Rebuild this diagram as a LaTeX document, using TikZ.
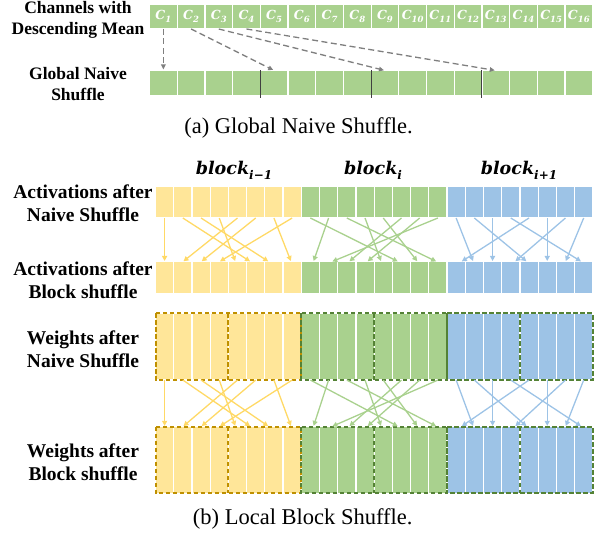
\documentclass[tikz,border=0pt]{standalone}
\usepackage{fontspec}
\setmainfont{Liberation Serif}
\newfontfamily\blkfont{DejaVu Serif}
\usetikzlibrary{arrows.meta}
\definecolor{cgreen}{HTML}{A9D18E}
\definecolor{cyellow}{HTML}{FFE699}
\definecolor{cblue}{HTML}{9DC3E6}
\definecolor{ayellow}{HTML}{FFD966}
\definecolor{agreen}{HTML}{A9D18E}
\definecolor{ablue}{HTML}{9DC3E6}
\definecolor{dgold}{HTML}{BF9000}
\definecolor{dgreen}{HTML}{548235}
\definecolor{agray}{HTML}{7F7F7F}
\definecolor{sepline}{HTML}{404040}

\newcommand{\chlab}[1]{{\blkfont\bfseries\itshape\fontsize{12.5}{12.5}\selectfont C\raisebox{-0.22em}{\fontsize{8.5}{8.5}\selectfont #1}}}
\newcommand{\blklab}[1]{{\blkfont\bfseries\itshape\fontsize{17.5}{17.5}\selectfont block\raisebox{-0.25em}{\fontsize{12}{12}\selectfont #1}}}

\tikzset{
  cellbase/.style={draw=white, line width=1.2pt, inner sep=0pt, outer sep=0pt},
  acell/.style={cellbase, fill=cgreen, minimum width=27.7pt, minimum height=25pt, text=white},
  bcell/.style={cellbase, minimum width=18.22pt},
  rowA/.style={minimum height=31.4pt},
  rowW/.style={minimum height=66.7pt},
  garrow/.style={draw=agray, line width=1.3pt, dash pattern=on 6pt off 3.5pt,
    -{Triangle[length=5pt,width=4.5pt]}, shorten >=1pt},
  barrow/.style={line width=1.3pt, -{Triangle[length=5pt,width=5pt]}, shorten >=0.8pt},
  halfbox/.style={line width=2pt, dash pattern=on 4.5pt off 2.5pt},
  rowlabel/.style={font=\fontsize{19.5}{23}\selectfont\bfseries, align=center, inner sep=0pt},
  toplabel/.style={font=\fontsize{17.5}{20.5}\selectfont\bfseries, align=center, inner sep=0pt},
  caption/.style={font=\fontsize{22.5}{26}\selectfont}
}

\begin{document}
\begin{tikzpicture}[x=1pt,y=-1pt]
\useasboundingbox (0,0) rectangle (602,537);

% ---------------- (a) global naive shuffle ----------------
\node[toplabel] (lchan) at (78,20) {Channels with\\Descending Mean};
\node[toplabel] (lglob) at (78,84) {Global Naive\\Shuffle};

\foreach \k in {1,...,16}{
  \node[acell] (c\k) at ({149.5+27.7*(\k-0.5)},16.5) {\chlab{\k}};
  \node[acell] (g\k) at ({149.5+27.7*(\k-0.5)},83) {};
}
% group separators in the shuffled row
\foreach \k in {4,8,12}
  \draw[sepline, line width=1pt] (g\k.north east) -- ([yshift=-3pt]g\k.south east);

\draw[garrow] (c1.south) -- (g1.north);
\draw[garrow] (c2.south) -- (g5.north);
\draw[garrow] (c3.south) -- (g9.north);
\draw[garrow] (c4.south) -- (g13.north);

\node[caption] (capa) at (298.5,128) {(a) Global Naive Shuffle.};

% ---------------- (b) local block shuffle ----------------
\node[anchor=base] (blk0) at (234,175) {\blklab{i−1}};
\node[anchor=base] (blk1) at (373,175) {\blklab{i}};
\node[anchor=base] (blk2) at (519,175) {\blklab{i+1}};

\node[rowlabel] (lact1) at (83,203) {Activations after\\Naive Shuffle};
\node[rowlabel] (lact2) at (83,280) {Activations after\\Block shuffle};
\node[rowlabel] (lw1) at (83,349) {Weights after\\Naive Shuffle};
\node[rowlabel] (lw2) at (83,462) {Weights after\\Block shuffle};

\foreach \n in {0,...,23}{
  \pgfmathtruncatemacro{\b}{int(\n/8)}
  \ifcase\b \def\fc{cyellow}\or \def\fc{cgreen}\or \def\fc{cblue}\fi
  \node[bcell, rowA, fill=\fc] (a\n) at ({155.5+18.22*(\n+0.5)},202.3) {};
  \node[bcell, rowA, fill=\fc] (b\n) at ({155.5+18.22*(\n+0.5)},277.5) {};
  \node[bcell, rowW, fill=\fc] (u\n) at ({155.5+18.22*(\n+0.5)},346.7) {};
  \node[bcell, rowW, fill=\fc] (v\n) at ({155.5+18.22*(\n+0.5)},460) {};
}

% dashed frames: each block of eight weight channels in two groups of four
\foreach \r in {u,v}{
  \foreach \s/\m/\e/\dc in {0/3/7/dgold,8/11/15/dgreen,16/19/23/dgreen}{
    \draw[halfbox, \dc] (\r\s.north west) rectangle (\r\e.south east);
    \draw[halfbox, \dc] (\r\m.north east) -- (\r\m.south east);
  }
}

% block-wise channel permutation (same for activations and weights)
\foreach \top/\bot in {a/b,u/v}{
  \foreach \s/\t/\dx in {0/0/0,1/5/-5,2/6/-5,3/4/-2,4/1/0,5/2/0,6/7/-1,7/3/0}
    \draw[barrow, ayellow] (\top\s.south) -- ([xshift=\dx pt]\bot\t.north);
  \foreach \s/\t/\dx in {8/13/-3,9/8/3,10/15/-1,11/12/-2,12/14/-2,13/10/2,14/11/2,15/9/3}
    \draw[barrow, agreen] (\top\s.south) -- ([xshift=\dx pt]\bot\t.north);
  \foreach \s/\t/\dx in {16/17/-1,17/20/-2,18/18/0,19/23/-2,20/16/5,21/21/0,22/19/4,23/22/0}
    \draw[barrow, ablue] (\top\s.south) -- ([xshift=\dx pt]\bot\t.north);
}

\node[caption] (capb) at (302.7,519) {(b) Local Block Shuffle.};
\end{tikzpicture}
\end{document}
